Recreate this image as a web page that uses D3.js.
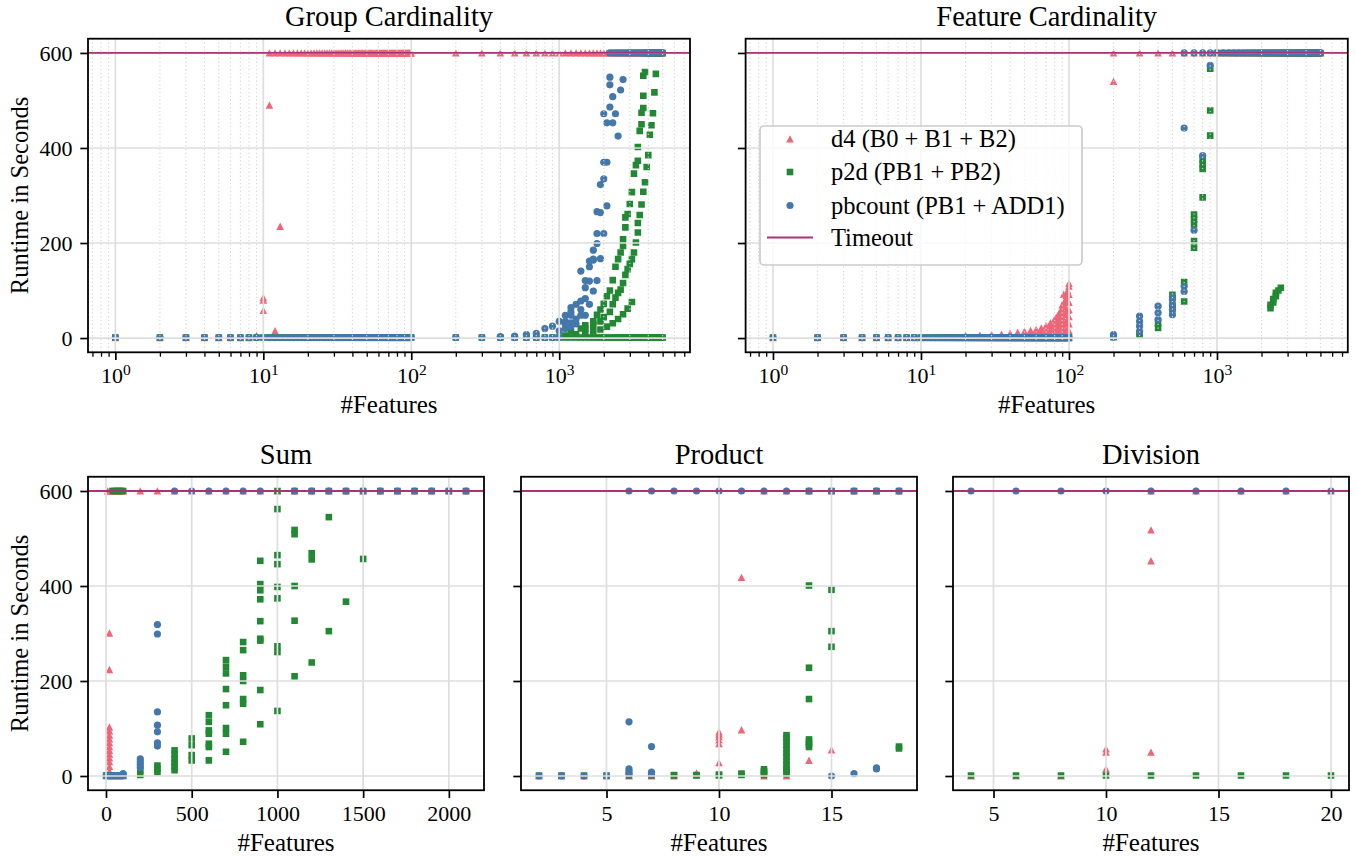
<!DOCTYPE html>
<html>
<head>
<meta charset="utf-8">
<script src="https://cdn.jsdelivr.net/npm/d3@7"></script>
<style>
  body { margin: 0; background: #fff; }
  svg text { font-family: "Liberation Serif", "Times New Roman", serif; fill: #000; }
</style>
</head>
<body>
<div id="viz"></div>
<script>
// ========================================
// Data
// ========================================

var TIMEOUT = 600;      // runs that hit the limit are drawn on the timeout line
var NEAR_ZERO = 1;      // runs that finished in about a second

var seriesNames = ["d4 (B0 + B1 + B2)", "p2d (PB1 + PB2)", "pbcount (PB1 + ADD1)", "Timeout"];
var yTicks = [0, 200, 400, 600];
var logMajorTicks = [1, 10, 100, 1000];
var sumTicks = [0, 500, 1000, 1500, 2000];
var productTicks = [5, 10, 15];
var divisionTicks = [5, 10, 15, 20];

// #features used by both cardinality experiments
var cardX = [1,2,3,4,5,6,7,8,9,10,11,12,13,14,15,16,17,18,19,20,21,22,23,24,25,26,27,28,29,30,
  31,32,33,34,35,36,37,38,39,40,41,42,43,44,45,46,47,48,49,50,51,52,53,54,55,56,57,58,59,60,
  61,62,63,64,65,66,67,68,69,70,71,72,73,74,75,76,77,78,79,80,81,82,83,84,85,86,87,88,89,90,
  91,92,93,94,95,96,97,98,99,100,200,300,400,500,600,700,800,900,1000,1100,1200,1300,1400,1500,
  1600,1700,1800,1900,2000,2100,2200,2300,2400,2500,2600,2700,2800,2900,3000,3100,3200,3300,3400,
  3500,3600,3700,3800,3900,4000,4100,4200,4300,4400,4500,4600,4700,4800,4900,5000];

// --- Group Cardinality
var groupD4Fast = [1,2,3,4,5,6,7,8];
var groupD4Runs = [[9,5],[10,85],[10,80],[10,58],[11,490],[12,15],[13,235]];
var groupD4Timeout = cardX.filter(x => x >= 11);
var groupP2dFast = cardX;
var groupP2dRuns = [
  [1200,14],[1400,20],[1500,27],[1700,35],[1800,49],[1900,60],[2000,72],[2100,88],[2200,100],
  [2300,122],[2400,150],[2500,166],[2600,180],[2700,194],[2700,208],[2800,233],[2800,254],[2900,261],
  [3000,282],[3100,307],[3200,346],[3300,364],[3400,373],[3400,402],[3500,436],[3600,450],
  [3600,474],[3700,484],[3700,510],[3700,552],[3800,560],
  [1500,20],[1700,28],[1900,35],[2000,44],[2200,55],[2300,71],[2400,85],[2500,95],[2600,102],
  [2700,116],[2800,133],[2900,145],[3000,156],[3100,166],[3200,180],[3300,201],[3400,222],[3400,242],
  [3500,259],[3600,281],[3700,308],[3800,328],[3900,360],[4000,385],[4100,428],[4200,448],
  [4300,473],[4400,517],[4500,556],
  [1100,5],[1300,8],[1500,11],[1700,14],[1900,18],[2100,24],[2300,31],[2500,40],[2700,50],[2900,62],[3100,76]
];
var groupP2dTimeout = [3900,4000,4100,4200,4300,4400,4500,4600,4700,4800,4900,5000];
var groupPbFast = cardX.filter(x => x <= 1000);
var groupPbRuns = [
  [400,3],[500,4],[600,7],[700,10],[800,20],[900,25],[1000,15],[1000,35],[1100,20],[1100,28],
  [1100,35],[1200,25],[1200,32],[1300,30],[1300,40],[1100,48],[1200,48],[1400,48],[1500,48],
  [1200,55],[1200,64],[1300,71],[1400,60],[1600,71],[1400,78],[1500,83],[1500,106],[1700,99],
  [1500,121],[1600,120],[1800,121],[1400,141],[1600,150],[1600,162],[1700,164],[1700,166],
  [1700,185],[1900,167],[1800,199],[1800,220],[2000,220],[1800,266],[1900,264],[2100,278],
  [1900,323],[2000,335],[2000,370],[2100,370],[2100,453],[2300,453],[2000,472],[2400,472],
  [2200,486],[2500,425],[2300,508],[2600,522],[2200,533],[2700,544],[2200,549]
];
var groupPbTimeout = cardX.filter(x => x >= 2200);

// --- Feature Cardinality
var featD4Fast = cardX.filter(x => x <= 100);
var featD4Runs = [
  [20,3],[20,5],[25,3],[25,6],[30,4],[30,7],[35,4],[35,8],[40,5],[40,10],[45,5],[45,9],[45,12],
  [50,6],[50,10],[50,14],[55,6],[55,11],[55,16],[60,7],[60,12],[60,18],[65,7],[65,14],[65,21],
  [70,8],[70,16],[70,26],[75,9],[75,18],[75,26],[75,32],[80,9],[80,19],[80,29],[80,40],
  [82,10],[82,22],[82,33],[82,43],[84,10],[84,24],[84,36],[84,47],[86,11],[86,25],[86,39],[86,52],
  [88,12],[88,26],[88,42],[88,58],[90,12],[90,28],[90,45],[90,60],[90,70],[92,14],[92,30],[92,50],
  [92,72],[92,92],[94,15],[94,32],[94,50],[94,66],[94,80],[96,15],[96,34],[96,55],[96,74],[96,90],
  [98,16],[98,36],[98,58],[98,80],[98,100],[100,15],[100,30],[100,45],[100,60],[100,75],[100,92],
  [100,109],[100,115],[200,540]
];
var featD4Timeout = cardX.filter(x => x >= 200);
var featP2dFast = cardX.filter(x => x <= 100);
var featP2dRuns = [
  [200,2],[300,10],[300,5],[400,32],[400,21],[500,91],[500,70],[500,60],[600,118],[600,77],
  [700,260],[700,250],[700,239],[700,204],[700,190],[800,377],[800,366],[800,356],[800,296],
  [900,567],[900,479],[900,426],
  [2300,63],[2300,70],[2400,75],[2400,82],[2500,88],[2500,95],[2600,100],[2700,106]
];
var featP2dTimeout = cardX.filter(x => x >= 1000);
var featPbFast = cardX.filter(x => x <= 100);
var featPbRuns = [
  [200,2],[200,7],[300,46],[300,35],[300,25],[300,14],[400,67],[400,53],[400,39],
  [500,87],[500,81],[500,70],[500,60],[500,49],[600,109],[600,98],[600,442],
  [700,227],[800,384],[900,574]
];
var featPbTimeout = cardX.filter(x => x >= 600);

// --- Sum
var sumX = [1,10,20,30,40,50,60,70,80,90,100,200,300,400,500,600,700,800,900,1000,1100,1200,
  1300,1400,1500,1600,1700,1800,1900,2000,2100];
var sumD4Fast = [1,10,20,30,40,50,60,70,80,90,100];
var sumD4Runs = [[20,301],[20,224],[20,103],[20,95],[20,86],[20,78],[20,70],[20,62],[20,54],
  [20,46],[20,38],[20,30],[20,20],[20,10]];
var sumD4Timeout = sumX.filter(x => x >= 10);
var sumP2dFast = [1,10,20,30,40,50,60,70,80,90,100];
var sumP2dRuns = [
  [200,12],[200,2],[300,22],[300,15],[300,8],[400,54],[400,45],[400,36],[400,28],[400,20],[400,12],
  [500,79],[500,65],[500,44],[500,33],[600,128],[600,114],[600,96],[600,89],[600,68],[600,61],[600,33],
  [700,244],[700,230],[700,216],[700,183],[700,149],[700,101],[700,89],[700,51],
  [800,282],[800,265],[800,212],[800,200],[800,162],[800,152],[800,72],
  [900,453],[900,404],[900,391],[900,372],[900,326],[900,289],[900,285],[900,181],[900,109],
  [1000,562],[1000,465],[1000,446],[1000,398],[1000,374],[1000,273],[1000,261],[1000,137],
  [1100,518],[1100,509],[1100,400],[1100,327],[1100,210],[1200,469],[1200,456],[1200,239],
  [1300,545],[1300,305],[1400,367],[1500,457]
];
var sumP2dTimeout = [40,50,60,70,80,90,100,1000,1100,1200,1300,1400,1500,1600,1700,1800,1900,2000,2100];
var sumPbFast = [1,10,20,30,40,50,60,70,80,90,100];
var sumPbRuns = [[100,5],[200,36],[200,30],[200,24],[200,18],[300,319],[300,299],[300,135],
  [300,107],[300,93],[300,70],[300,63]];
var sumPbTimeout = [400,500,600,700,800,900,1100,1200,1300,1400,1500,1600,1700,1800,1900,2000,2100];

// --- Product
var productD4Runs = [[2,0],[3,0],[4,0],[5,0],[6,0],[7,0],[8,0],[9,6],[10,93],[10,88],[10,83],
  [10,76],[10,68],[10,28],[11,418],[11,97],[12,0],[13,0],[14,33],[15,55]];
var productD4Timeout = [12,13,14,15,16,17,18];
var productP2dRuns = [[2,1],[3,1],[4,1],[5,1],[6,1],[7,1],[7,4],[8,1],[8,2],[9,1],[9,2],[10,1],
  [10,3],[11,2],[11,5],[12,2],[12,6],[12,10],[12,14],[13,86],[13,80],[13,72],[13,64],[13,56],
  [13,48],[13,40],[13,32],[13,24],[13,16],[13,10],[13,4],[14,401],[14,228],[14,162],[14,77],
  [14,72],[14,66],[14,61],[15,392],[15,305],[15,272],[18,62],[18,58]];
var productP2dTimeout = [14,15,16,17,18];
var productPbRuns = [[2,0],[3,0],[4,0],[5,0],[6,114],[6,15],[6,10],[6,4],[7,62],[7,8],[7,3],
  [15,0],[16,5],[17,17],[17,15]];
var productPbTimeout = [6,7,8,9,10,11,12,13,14,15,16,17,18];

// --- Division
var divisionX = [4,6,8,10,12,14,16,18,20];
var divisionD4Runs = [[4,0],[6,0],[8,0],[10,57],[10,50],[10,15],[12,518],[12,453],[12,50]];
var divisionD4Timeout = [12,14,16,18,20];
var divisionP2dFast = divisionX;
var divisionPbTimeout = divisionX;

// ========================================
// Styling
// ========================================

var width = 1356, height = 861;
var colors = ["#EE6677", "#228833", "#4477AA"];
var timeout_color = "#AA3377";
var grid_color = "#dedede";
var tick_len = 7.7, tick_pad = 7.7;

var svg = d3.select("#viz").append("svg")
  .attr("width", width)
  .attr("height", height)
  .style("background-color", "#fff");

var defs = svg.append("defs");

function markerPath(kind) {
  if (kind === 0) return "M0,-3.8L3.8,3.6L-3.8,3.6Z";
  return "M-3.3,-3.3H3.3V3.3H-3.3Z";
}

function drawMarker(g, kind, cx, cy) {
  if (kind === 2) {
    g.append("circle").attr("cx", cx).attr("cy", cy).attr("r", 3.6).attr("fill", colors[2]);
  } else {
    g.append("path").attr("d", markerPath(kind))
      .attr("transform", `translate(${cx},${cy})`).attr("fill", colors[kind]);
  }
}

function toPoints(fast, runs, timeout) {
  var pts = [];
  (fast || []).forEach(x => pts.push([x, NEAR_ZERO]));
  (runs || []).forEach(p => pts.push(p));
  (timeout || []).forEach(x => pts.push([x, TIMEOUT]));
  return pts;
}

var logPad = 0.05 * Math.log10(5000);
var logDomain = [Math.pow(10, -logPad), 5000 * Math.pow(10, logPad)];

var panels = [
  { id: "group", title: "Group Cardinality", box: [88, 690, 38.7, 352.3], log: true, xDomain: logDomain,
    yLabels: true, series: [toPoints(groupD4Fast, groupD4Runs, groupD4Timeout),
      toPoints(groupP2dFast, groupP2dRuns, groupP2dTimeout), toPoints(groupPbFast, groupPbRuns, groupPbTimeout)] },
  { id: "feat", title: "Feature Cardinality", box: [745.6, 1347.8, 38.7, 352.3], log: true, xDomain: logDomain,
    yLabels: false, legend: true, series: [toPoints(featD4Fast, featD4Runs, featD4Timeout),
      toPoints(featP2dFast, featP2dRuns, featP2dTimeout), toPoints(featPbFast, featPbRuns, featPbTimeout)] },
  { id: "sum", title: "Sum", box: [88, 484, 476.75, 790.25], xDomain: [-105, 2205], xTicks: sumTicks,
    yLabels: true, series: [toPoints(sumD4Fast, sumD4Runs, sumD4Timeout),
      toPoints(sumP2dFast, sumP2dRuns, sumP2dTimeout), toPoints(sumPbFast, sumPbRuns, sumPbTimeout)] },
  { id: "prod", title: "Product", box: [521, 917, 476.75, 790.25], xDomain: [1.2, 18.8], xTicks: productTicks,
    yLabels: false, series: [toPoints(null, productD4Runs, productD4Timeout),
      toPoints(null, productP2dRuns, productP2dTimeout), toPoints(null, productPbRuns, productPbTimeout)] },
  { id: "div", title: "Division", box: [953, 1349, 476.75, 790.25], xDomain: [3.2, 20.8], xTicks: divisionTicks,
    yLabels: false, series: [toPoints(null, divisionD4Runs, divisionD4Timeout),
      toPoints(divisionP2dFast, null, null), toPoints(null, null, divisionPbTimeout)] }
];

// ========================================
// Panels
// ========================================

panels.forEach(drawPanel);

function drawPanel(p) {
  var [left, right, top, bottom] = p.box;
  var x = (p.log ? d3.scaleLog() : d3.scaleLinear()).domain(p.xDomain).range([left, right]);
  var y = d3.scaleLinear().domain([-30, 630]).range([bottom, top]);

  defs.append("clipPath").attr("id", "clip-" + p.id)
    .append("rect").attr("x", left).attr("y", top).attr("width", right - left).attr("height", bottom - top);

  var plot = svg.append("g").attr("clip-path", `url(#clip-${p.id})`);

  // scatter, one series after the other
  p.series.forEach((pts, k) => {
    var g = plot.append("g");
    pts.forEach(d => drawMarker(g, k, x(d[0]), y(d[1])));
  });

  // grid drawn over the markers, like the original
  var minor = p.log ? x.ticks().filter(t => logMajorTicks.indexOf(t) < 0 && t > 0) : [];
  plot.selectAll(".gminor").data(minor).enter().append("line")
    .attr("x1", d => x(d)).attr("x2", d => x(d)).attr("y1", top).attr("y2", bottom)
    .attr("stroke", "#d6d6d6").attr("stroke-width", 1.1).attr("stroke-dasharray", "1.2,2.6");
  var xMaj = p.log ? logMajorTicks : p.xTicks;
  plot.selectAll(".gx").data(xMaj).enter().append("line")
    .attr("x1", d => x(d)).attr("x2", d => x(d)).attr("y1", top).attr("y2", bottom)
    .attr("stroke", grid_color).attr("stroke-width", 1.7);
  plot.selectAll(".gy").data(yTicks).enter().append("line")
    .attr("x1", left).attr("x2", right).attr("y1", d => y(d)).attr("y2", d => y(d))
    .attr("stroke", grid_color).attr("stroke-width", 1.7);

  // timeout line
  plot.append("line")
    .attr("x1", left).attr("x2", right).attr("y1", y(TIMEOUT)).attr("y2", y(TIMEOUT))
    .attr("stroke", timeout_color).attr("stroke-width", 1.8);

  // frame
  svg.append("rect").attr("x", left).attr("y", top).attr("width", right - left).attr("height", bottom - top)
    .attr("fill", "none").attr("stroke", "#000").attr("stroke-width", 1.8);

  // y axis
  var yAxis = svg.append("g").attr("transform", `translate(${left},0)`)
    .call(d3.axisLeft(y).tickValues(yTicks).tickSize(tick_len).tickPadding(tick_pad)
      .tickFormat(p.yLabels ? d3.format("d") : ""));
  styleAxis(yAxis);

  // x axis
  var xAxis = svg.append("g").attr("transform", `translate(0,${bottom})`);
  if (p.log) {
    var minorAxis = svg.append("g").attr("transform", `translate(0,${bottom})`)
      .call(d3.axisBottom(x).tickValues(minor).tickSize(4.4).tickFormat(""));
    styleAxis(minorAxis);
    minorAxis.selectAll("line").attr("stroke-width", 1.3);
    xAxis.call(d3.axisBottom(x).tickValues(logMajorTicks).tickSize(tick_len).tickPadding(tick_pad)
      .tickFormat(""));
    styleAxis(xAxis);
    xAxis.selectAll(".tick text").each(function(d) {
      var t = d3.select(this).text(null);
      t.append("tspan").text("10");
      t.append("tspan").attr("dy", "-8.3").style("font-size", "15.5px").text(Math.round(Math.log10(d)));
    });
  } else {
    xAxis.call(d3.axisBottom(x).tickValues(p.xTicks).tickSize(tick_len).tickPadding(tick_pad)
      .tickFormat(d3.format("d")));
    styleAxis(xAxis);
  }

  // labels
  svg.append("text").attr("x", (left + right) / 2).attr("y", top - 13)
    .attr("text-anchor", "middle").style("font-size", "28.5px").text(p.title);
  svg.append("text").attr("x", (left + right) / 2).attr("y", bottom + 61)
    .attr("text-anchor", "middle").style("font-size", "25px").text("#Features");
  if (p.yLabels) {
    svg.append("text").attr("transform", `translate(28,${(top + bottom) / 2})rotate(-90)`)
      .attr("text-anchor", "middle").style("font-size", "24.5px").text("Runtime in Seconds");
  }

  if (p.legend) drawLegend();
}

function styleAxis(g) {
  g.select(".domain").remove();
  g.selectAll(".tick line").attr("stroke", "#000").attr("stroke-width", 1.7);
  g.selectAll(".tick text").style("font-size", "22px").style("font-family", "'Liberation Serif', serif")
    .attr("fill", "#000");
}

// ========================================
// Legend
// ========================================

function drawLegend() {
  var lg = svg.append("g");
  lg.append("rect").attr("x", 760).attr("y", 126).attr("width", 322).attr("height", 139)
    .attr("rx", 4).attr("fill", "#fff").attr("fill-opacity", 0.8)
    .attr("stroke", "#cccccc").attr("stroke-width", 1.7);
  var rows = [139, 172, 205.5, 237.5];
  seriesNames.forEach((name, i) => {
    if (i < 3) {
      drawMarker(lg, i, 790, rows[i]);
    } else {
      lg.append("line").attr("x1", 767).attr("x2", 813).attr("y1", rows[i]).attr("y2", rows[i])
        .attr("stroke", timeout_color).attr("stroke-width", 1.8);
    }
    lg.append("text").attr("x", 831).attr("y", rows[i] + 8)
      .style("font-size", "24.5px").text(name);
  });
}
</script>
</body>
</html>
